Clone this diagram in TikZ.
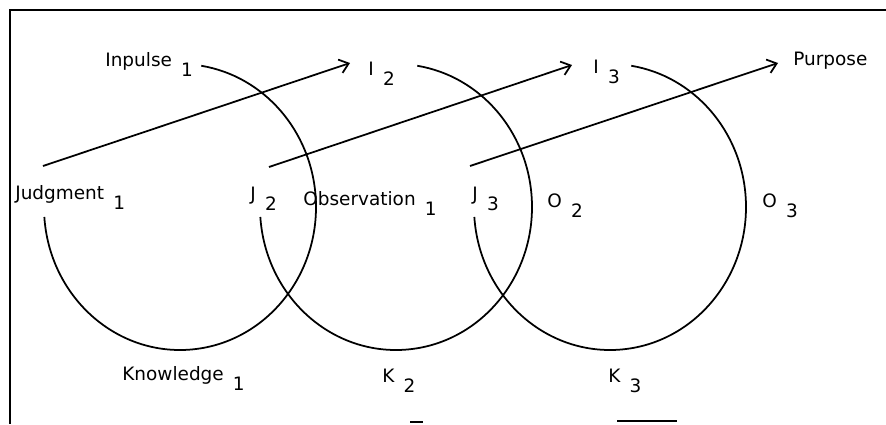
\documentclass[tikz,border=0pt]{standalone}
\usepackage{fontspec}
\setmainfont{DejaVu Sans}
\usepackage{tikz}
\usetikzlibrary{arrows.meta}

% index number set low and to the right of a label
\newcommand{\lowidx}[1]{\hspace{0.5em}\raisebox{-6pt}{#1}}

\begin{document}
\begin{tikzpicture}[x=0.02cm, y=0.02cm,
    loopline/.style={line width=1pt},
    flow/.style={line width=1pt, -{Straight Barb[length=5pt,width=8pt]}},
    lbl/.style={anchor=base west, inner sep=0pt, font=\fontsize{10.5}{12}\selectfont}]
    \useasboundingbox (0,0) rectangle (886,424);

    % Frame, top and left edges
    \draw[line width=1pt] (886,414) -- (10,414) -- (10,0);

    % Bits of the bottom edge
    \draw[line width=0.8pt] (410,2) -- (423,2);
    \draw[line width=0.8pt] (617,3) -- (677,3);

    % Centres of the three loops
    \coordinate (c1) at (180,217);
    \coordinate (c2) at (396,217);
    \coordinate (c3) at (610,217);

    % Loops, open at the upper left
    \foreach \c in {c1,c2,c3}
        \draw[loopline] (\c) ++(184:136 and 143)
            arc[start angle=184, end angle=441, x radius=136, y radius=143];

    % Labels on top
    \node[lbl] (imp1) at (105,358) {Inpulse\lowidx{1}};
    \node[lbl] (i2) at (368,349) {I\lowidx{2}};
    \node[lbl] (i3) at (593,351) {I\lowidx{3}};
    \node[lbl] (purp) at (793,359) {Purpose};

    % Labels in the middle row
    \node[lbl] (jud1) at (15,225) {Judgment\lowidx{1}};
    \node[lbl] (j2) at (250,224) {J\lowidx{2}};
    \node[lbl] (obs1) at (303,219) {Observation\lowidx{1}};
    \node[lbl] (j3) at (472,224) {J\lowidx{3}};
    \node[lbl] (o2) at (547,217) {O\lowidx{2}};
    \node[lbl] (o3) at (762,217) {O\lowidx{3}};

    % Labels below the loops
    \node[lbl] (know1) at (122,44) {Knowledge\lowidx{1}};
    \node[lbl] (k2) at (382,42) {K\lowidx{2}};
    \node[lbl] (k3) at (608,42) {K\lowidx{3}};

    % Arrows from each judgment up to the next impulse
    \coordinate (s1) at (43,258);
    \coordinate (t1) at (350,361);
    \coordinate (s2) at (269,257);
    \coordinate (t2) at (572,359);
    \coordinate (s3) at (470,258);
    \coordinate (t3) at (778,361);
    \draw[flow] (s1) -- (t1);
    \draw[flow] (s2) -- (t2);
    \draw[flow] (s3) -- (t3);
\end{tikzpicture}
\end{document}
